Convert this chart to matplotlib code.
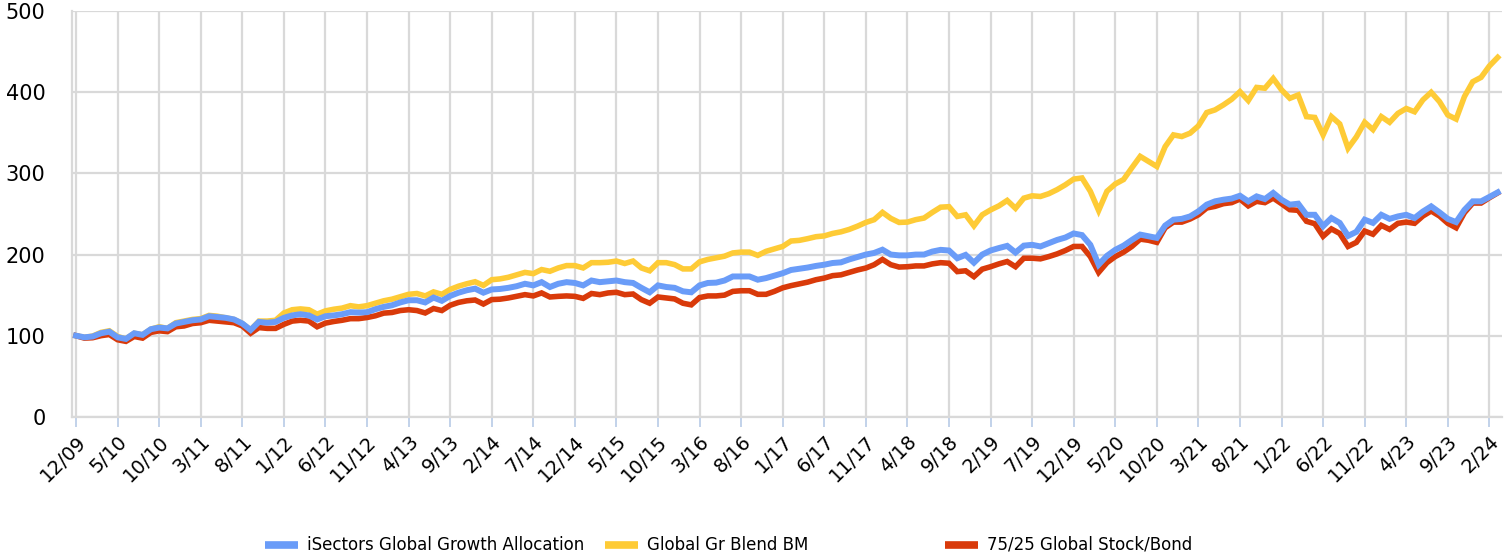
import matplotlib
matplotlib.use("Agg")
import matplotlib.pyplot as plt
from matplotlib.lines import Line2D
import numpy as np

# monthly values, 12/09 .. 3/24 (172 months)
isectors = [
    100, 98, 99, 103, 105, 98, 96, 103, 101, 108,
    110, 109, 115, 117, 119, 120, 124, 123, 122, 120,
    115, 107, 117, 116, 117, 122, 125, 126.5, 125, 120,
    124, 125, 126.5, 129, 128.5, 129, 132.6, 135.5, 137.5, 141,
    143.7, 143.7, 141, 147, 143, 149, 153, 156, 158, 153,
    157, 157.6, 159, 161, 164, 162, 166, 160, 164, 166,
    165, 162, 168, 166, 167, 168, 166, 165, 159, 153.5,
    162, 160, 159, 154.7, 153.5, 162, 165, 165.4, 168, 173,
    173, 173, 169, 171, 174, 177, 181, 182.5, 184, 186,
    187.5, 189.6, 190.4, 194, 197, 200, 202, 206, 200, 199,
    199, 200, 200, 203.7, 205.8, 205, 195.5, 199.6, 190, 200,
    205, 208, 210.7, 202.5, 211, 212, 210, 214, 218, 221,
    226, 224, 212, 187.6, 198.4, 205.8, 211, 218, 224.6, 222.5,
    220.5, 235.7, 243, 244, 247, 253.3, 261.5, 265.6, 267.6, 269,
    272.5, 265.6, 271.7, 268.4, 276, 267.6, 261.5, 262.7, 249, 249,
    235, 245, 239, 223, 228, 243, 239, 249, 244, 247,
    249, 245, 253, 259.4, 252, 244, 240, 255, 265.6, 265.6,
    271, 276.6,
]

global_bm = [
    100, 98, 99.5, 104, 106, 99, 96, 103, 101, 108,
    111, 109, 116, 118, 120, 121, 125, 124, 122, 120,
    115, 107, 118, 118, 119, 128, 132, 133, 132, 126.5,
    130.6, 132.6, 134, 137, 135.5, 137, 140, 143, 145, 148,
    151, 152, 149, 154, 151, 157, 161, 164, 166.5, 162,
    169, 170, 172, 175, 178, 176.5, 181.5, 179.4, 183.5, 186.4,
    186.4, 183.5, 190, 190, 190.5, 192, 189, 192, 183.5, 180,
    190, 190, 187.6, 182.3, 182.3, 191, 194, 196, 198, 202,
    203, 203, 199, 204, 207, 210, 216.7, 217.5, 219.6, 222,
    223, 226, 228, 231, 235, 239.6, 243, 252, 244.6, 239.6,
    240, 243, 245, 252, 258.4, 259, 247, 249, 235.4, 249,
    255, 260, 266.7, 257, 269.5, 272.4, 271.6, 275, 280, 286,
    293, 294.4, 278, 254.3, 278, 287, 292.5, 307, 321, 314.8,
    308.6, 333, 347.5, 345.5, 349.6, 358.6, 375, 378.3, 384.4, 391.4,
    400.8, 389.8, 406, 405, 417, 403, 392.6, 396.7, 370, 369,
    347.5, 370, 361, 331, 345, 363, 354, 370, 363, 374,
    380, 376, 390.6, 400, 388.5, 372, 367, 394.7, 413, 418.4,
    432.4, 443,
]

stock_bond = [
    100, 97, 97.5, 100, 101.5, 95, 93, 99, 97, 104,
    106, 105, 111, 112, 115, 116, 119, 118, 117, 116,
    112, 103, 110, 109, 109, 114, 118, 119, 118, 111,
    115.5, 117.5, 119, 121, 121, 122.4, 124.5, 127.8, 128.6, 131,
    132, 131, 128, 133.5, 131, 137.5, 141, 143, 144, 139,
    144.5, 145, 146.5, 148.5, 150.6, 149, 152.7, 147.7, 148.5, 149,
    148.5, 146, 152, 150.6, 152.7, 153.5, 150.6, 151.4, 144.4, 140,
    147.7, 146.5, 145.3, 140, 138, 147, 149, 149, 150, 154.6,
    155.4, 155.4, 151, 151, 154.6, 159, 161.7, 163.8, 166, 169,
    171, 174, 175, 178, 181, 183.4, 187.5, 194, 187.5, 184.6,
    185, 186, 186, 188.5, 190, 189.3, 179, 180, 172.8, 182,
    185, 188.5, 191.4, 185, 195.5, 195.5, 194.7, 197.5, 200.8, 205,
    210, 210, 197.5, 178, 190, 197.5, 203, 210, 219, 217.6,
    215, 233, 240, 240, 243.8, 249, 257.4, 259.4, 262.7, 264,
    268.4, 260, 265.6, 264, 269.6, 262.7, 255.3, 254.5, 241, 238,
    222.5, 231.6, 226, 210, 215, 229, 225, 236, 231, 238.5,
    240, 238.5, 247.5, 253.7, 247.5, 238.5, 233, 251.6, 263.5, 263.5,
    270, 276,
]

tick_labels = [
    '12/09', '5/10', '10/10', '3/11', '8/11', '1/12', '6/12', '11/12',
    '4/13', '9/13', '2/14', '7/14', '12/14', '5/15', '10/15', '3/16',
    '8/16', '1/17', '6/17', '11/17', '4/18', '9/18', '2/19', '7/19',
    '12/19', '5/20', '10/20', '3/21', '8/21', '1/22', '6/22', '11/22',
    '4/23', '9/23', '2/24',
]

names = ['iSectors Global Growth Allocation', 'Global Gr Blend BM',
         '75/25 Global Stock/Bond']
colors = ['#6a9cf8', '#fecb36', '#d93a0a']

x = np.arange(len(isectors))

fig = plt.figure(figsize=(15.1, 5.58), dpi=100)
ax = fig.add_axes([0.0476, 0.253, 0.947, 0.727])

ax.plot(x, global_bm, color=colors[1], lw=4.0, solid_joinstyle='miter', zorder=3)
ax.plot(x, stock_bond, color=colors[2], lw=4.0, solid_joinstyle='miter', zorder=4)
ax.plot(x, isectors, color=colors[0], lw=4.3, solid_joinstyle='miter', zorder=5)

ax.set_xlim(-0.5, len(x) - 0.5)
ax.set_ylim(0, 500)
ax.set_yticks(range(0, 501, 100))
ax.set_xticks(x[::5])
ax.set_xticklabels(tick_labels, rotation=45, ha='right',
                   rotation_mode='anchor', fontsize=14)
ax.tick_params(axis='y', length=0, pad=19, labelsize=15)
ax.tick_params(axis='x', length=7, width=1.2, color='#b8cbe6', pad=4)

ax.grid(True, color='#d9d9d9', lw=1.6)
ax.set_axisbelow(True)
for s in ['top', 'right']:
    ax.spines[s].set_visible(False)
ax.spines['left'].set_color('#d9d9d9')
ax.spines['left'].set_linewidth(1.6)
ax.spines['bottom'].set_color('#d9d9d9')
ax.spines['bottom'].set_linewidth(1.6)

# legend, three equal-width columns along the bottom
for i, (name, c) in enumerate(zip(names, colors)):
    x0 = (265 + 340 * i) / 1510
    fig.add_artist(Line2D([x0, x0 + 33 / 1510], [0.024, 0.024],
                          color=c, lw=5.5, solid_capstyle='butt'))
    fig.text(x0 + 42 / 1510, 0.024, name, fontsize=12, va='center', ha='left')

plt.savefig('out.png', dpi=100)
